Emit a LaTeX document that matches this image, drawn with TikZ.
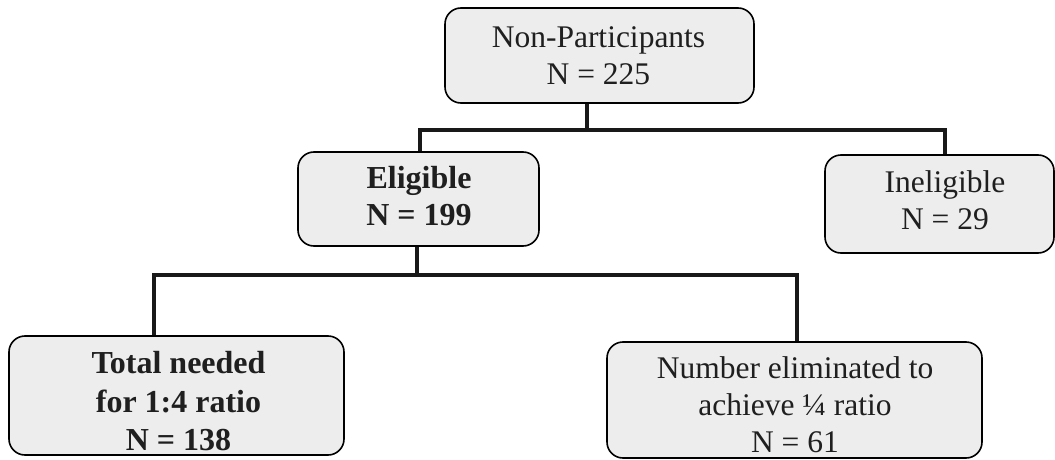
\documentclass[tikz,border=0pt]{standalone}
\usepackage{fontspec}
\setmainfont{Liberation Serif}
\begin{document}
\begin{tikzpicture}[x=1pt,y=-1pt,
  box/.style={draw=black, line width=1.6pt, rounded corners=16pt, fill=boxgray,
    inner sep=0pt},
  txt/.style={align=center, inner sep=0pt, text=black!88,
    font=\fontsize{31.5}{37}\selectfont},
  btxt/.style={align=center, inner sep=0pt, text=black!88,
    font=\fontsize{32}{37}\selectfont\bfseries},
  conn/.style={draw=black!90, line width=4pt}]
\definecolor{boxgray}{HTML}{EDEDED}
\useasboundingbox (0,0) rectangle (1055,460);
% boxes
\node[box, minimum width=309pt, minimum height=95pt] (top) at (599.5,55.5) {};
\node[box, minimum width=241pt, minimum height=94pt] (elig) at (418.5,199) {};
\node[box, minimum width=229pt, minimum height=98pt] (inel) at (939.5,204) {};
\node[box, minimum width=335pt, minimum height=119pt] (bl) at (176.5,395.5) {};
\node[box, minimum width=375pt, minimum height=116pt] (br) at (794.5,400) {};
% texts
\node[txt] (toptext) at (598.5,55.5) {Non-Participants\\N = 225};
\node[btxt] (eligtext) at (419,196) {Eligible\\N = 199};
\node[txt] (ineltext) at (945,200) {Ineligible\\N = 29};
\node[btxt, font=\fontsize{32}{38.5}\selectfont\bfseries] (bltext) at (178.5,401.5) {Total needed\\for 1:4 ratio\\N = 138};
\node[txt] (brtext) at (795,405) {Number eliminated to\\achieve ¼ ratio\\N = 61};
% connectors
\coordinate (j1) at (587,130);
\coordinate (j2) at (417,275);
\draw[conn] ([xshift=-12.5pt]top.south) -- (j1);
\draw[conn] ([xshift=1.5pt]elig.north) |- (j1) -| ([xshift=5.5pt]inel.north);
\draw[conn] ([xshift=-1.5pt]elig.south) -- (j2);
\draw[conn] ([xshift=-22.5pt]bl.north) |- (j2) -| ([xshift=2.5pt]br.north);
\end{tikzpicture}
\end{document}
